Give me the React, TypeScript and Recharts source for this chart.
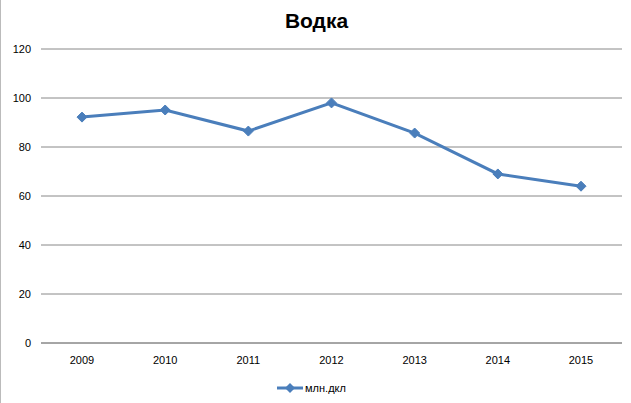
import { LineChart, Line, XAxis, YAxis, CartesianGrid, Legend } from "recharts";

const years = ["2009", "2010", "2011", "2012", "2013", "2014", "2015"];
const volume = [92.2, 95.1, 86.5, 98, 85.7, 69, 64];
const yTicks = [0, 20, 40, 60, 80, 100, 120];

const data = years.map((y, i) => ({ year: y, value: volume[i] }));

const BLUE = "#4a7ebb";
const GRID = "#888888";

/** ромбовидный маркер */
function Diamond(props: any) {
  const { cx, cy } = props;
  if (cx == null || cy == null) return null;
  const r = 5;
  return (
    <polygon
      points={`${cx},${cy - r} ${cx + r},${cy} ${cx},${cy + r} ${cx - r},${cy}`}
      fill={BLUE}
      stroke={BLUE}
    />
  );
}

function LegendContent() {
  return (
    <div
      style={{
        display: "flex",
        justifyContent: "center",
        alignItems: "center",
        paddingTop: 9,
        fontSize: 11,
        color: "#000",
        fontFamily: "'Liberation Sans', Arial, sans-serif",
      }}
    >
      <svg width={26} height={12} style={{ marginRight: 2 }}>
        <line x1={0} y1={6} x2={26} y2={6} stroke={BLUE} strokeWidth={3} />
        <polygon points="13,1 18,6 13,11 8,6" fill={BLUE} />
      </svg>
      млн.дкл
    </div>
  );
}

export default function App() {
  return (
    <div
      style={{
        position: "relative",
        width: 631,
        height: 403,
        background: "#fff",
        borderLeft: "1px solid #bbb",
        boxSizing: "border-box",
        fontFamily: "'Liberation Sans', Arial, sans-serif",
      }}
    >
      <style>{`body{margin:0}`}</style>
      <div
        style={{
          position: "absolute",
          top: 9,
          left: 0,
          width: 631,
          textAlign: "center",
          fontSize: 21,
          fontWeight: 700,
          color: "#000",
        }}
      >
        Водка
      </div>
      <LineChart
        width={630}
        height={403}
        data={data}
        margin={{ top: 49, right: 9, bottom: 0, left: 0 }}
      >
        <CartesianGrid vertical={false} stroke={GRID} strokeWidth={1} />
        <XAxis
          dataKey="year"
          axisLine={{ stroke: GRID }}
          tickLine={false}
          tickSize={0}
          tickMargin={13}
          height={30}
          padding={{ left: 41, right: 41 }}
          tick={{ fontSize: 11, fill: "#000" }}
        />
        <YAxis
          domain={[0, 120]}
          ticks={yTicks}
          axisLine={false}
          tickLine={false}
          tickSize={0}
          tickMargin={10}
          width={40}
          tick={{ fontSize: 11, fill: "#000" }}
        />
        <Legend
          verticalAlign="bottom"
          height={30}
          content={<LegendContent />}
        />
        <Line
          type="linear"
          dataKey="value"
          name="млн.дкл"
          stroke={BLUE}
          strokeWidth={3}
          dot={<Diamond />}
          activeDot={false}
          isAnimationActive={false}
        />
      </LineChart>
    </div>
  );
}
